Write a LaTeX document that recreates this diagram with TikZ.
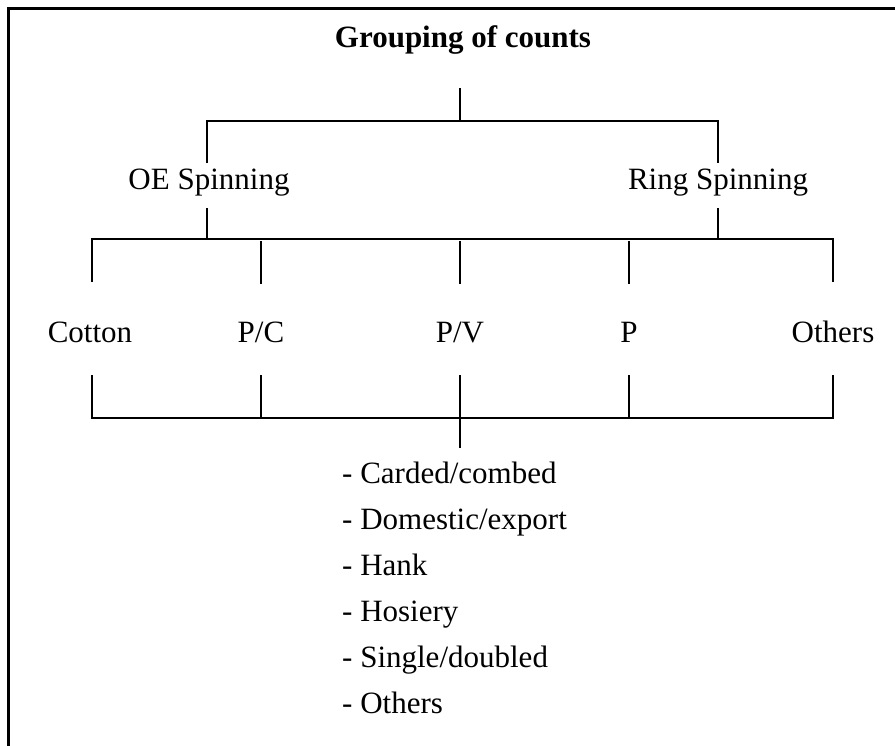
\documentclass[tikz,border=0pt]{standalone}
\usepackage{fontspec}
\setmainfont{Liberation Serif}
\begin{document}
\begin{tikzpicture}[x=1pt,y=-1pt,
  txt/.style={inner sep=0pt, font=\fontsize{31}{37}\selectfont, anchor=base},
  item/.style={txt, anchor=base west},
  thinline/.style={line width=1.4pt},
  thickline/.style={line width=2.4pt},
  frameline/.style={line width=2.2pt}]
\useasboundingbox (0,0) rectangle (895,745);
% frame (only left and top edges visible)
\coordinate (fbl) at (8.5,746);
\coordinate (ftl) at (8.5,8.5);
\coordinate (ftr) at (896,8.5);
\draw[frameline] (fbl) -- (ftl) -- (ftr);
% title
\node[txt, font=\bfseries\fontsize{31}{37}\selectfont] (title) at (463,47) {Grouping of counts};
% level 1
\node[txt] (oe) at (209,189) {OE Spinning};
\node[txt] (ring) at (718,189) {Ring Spinning};
% level 2
\node[txt] (cotton) at (90,342) {Cotton};
\node[txt] (pc) at (261,342) {P/C};
\node[txt] (pv) at (460,342) {P/V};
\node[txt] (p) at (629,342) {P};
\node[txt] (others) at (833,342) {Others};
% list
\node[item] (l1) at (342,483) {- Carded/combed};
\node[item] (l2) at (342,529) {- Domestic/export};
\node[item] (l3) at (342,575) {- Hank};
\node[item] (l4) at (342,621) {- Hosiery};
\node[item] (l5) at (342,667) {- Single/doubled};
\node[item] (l6) at (342,713) {- Others};
% coordinates
\coordinate (t1) at (460,88);
\coordinate (t2) at (460,121);
\coordinate (h1l) at (207,121);
\coordinate (h1r) at (718,121);
\coordinate (oeTop) at (207,163);
\coordinate (ringTop) at (718,163);
\coordinate (oeBot) at (207,208);
\coordinate (ringBot) at (718,208);
\coordinate (oeJ) at (207,239);
\coordinate (ringJ) at (718,239);
\coordinate (h2l) at (92,239);
\coordinate (h2r) at (833,239);
\coordinate (cotTop) at (92,282);
\coordinate (othTop) at (833,282);
\coordinate (pcA) at (261,241);
\coordinate (pcB) at (261,284);
\coordinate (pvA) at (460,241);
\coordinate (pvB) at (460,284);
\coordinate (pA) at (629,241);
\coordinate (pB) at (629,284);
\coordinate (cotBot) at (92,375);
\coordinate (othBot) at (833,375);
\coordinate (h3l) at (92,418);
\coordinate (h3r) at (833,418);
\coordinate (pcC) at (261,375);
\coordinate (pcD) at (261,418);
\coordinate (pvC) at (460,375);
\coordinate (pvD) at (460,448);
\coordinate (pC) at (629,375);
\coordinate (pD) at (629,418);
% connectors
\draw[thickline] (t1) -- (t2);
\draw[thinline] (oeTop) -- (h1l) -- (h1r) -- (ringTop);
\draw[thickline] (oeBot) -- (oeJ);
\draw[thickline] (ringBot) -- (ringJ);
\draw[thinline] (cotTop) -- (h2l) -- (h2r) -- (othTop);
\draw[thickline] (pcA) -- (pcB);
\draw[thickline] (pvA) -- (pvB);
\draw[thickline] (pA) -- (pB);
\draw[thinline] (cotBot) -- (h3l) -- (h3r) -- (othBot);
\draw[thickline] (pcC) -- (pcD);
\draw[thickline] (pvC) -- (pvD);
\draw[thickline] (pC) -- (pD);
\end{tikzpicture}
\end{document}
